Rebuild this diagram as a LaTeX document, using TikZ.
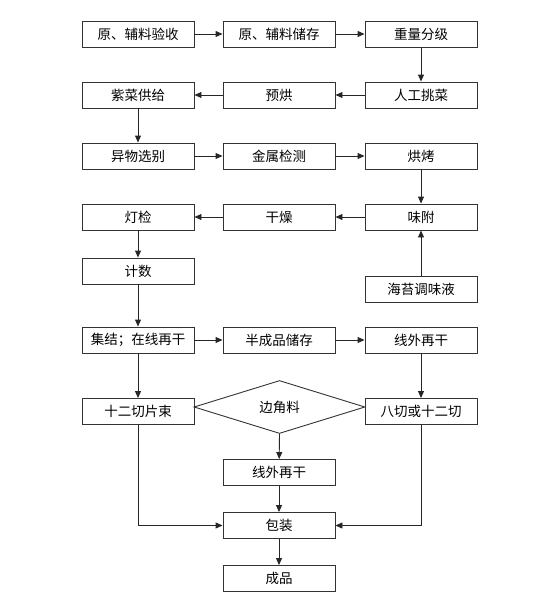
\documentclass[tikz,border=0pt]{standalone}
\usepackage{fontspec}
\setmainfont{Noto Sans CJK SC}
\usetikzlibrary{arrows.meta,shapes.geometric}
\tikzset{
  box/.style={draw=black!80, line width=0.9pt, minimum width=112pt, minimum height=26pt, inner sep=0pt, font=\fontsize{13.5}{15}\selectfont},
  dia/.style={draw=black!80, line width=0.9pt, diamond, aspect=3.2, minimum width=171pt, minimum height=53pt, inner sep=0pt, font=\fontsize{13.5}{15}\selectfont},
  arr/.style={draw=black!85, line width=0.9pt, -{Triangle[length=7pt,width=6pt]}},
  ln/.style={draw=black!85, line width=0.9pt}
}
\begin{document}
\begin{tikzpicture}[x=1pt,y=-1pt]
\useasboundingbox (0,0) rectangle (541,597);
% row 1
\node[box] (a1) at (138,34) {原、辅料验收};
\node[box] (a2) at (279,34) {原、辅料储存};
\node[box] (a3) at (421,34) {重量分级};
% row 2
\node[box] (b1) at (138,95) {紫菜供给};
\node[box] (b2) at (279,95) {预烘};
\node[box] (b3) at (421,95) {人工挑菜};
% row 3
\node[box] (c1) at (138,156) {异物选别};
\node[box] (c2) at (279,156) {金属检测};
\node[box] (c3) at (421,156) {烘烤};
% row 4
\node[box] (d1) at (138,217) {灯检};
\node[box] (d2) at (279,217) {干燥};
\node[box] (d3) at (421,217) {味附};
% count and seasoning
\node[box] (e1) at (138,271) {计数};
\node[box] (e3) at (421,289) {海苔调味液};
% collect row
\node[box] (f1) at (138,340) {集结；在线再干};
\node[box] (f2) at (279,340) {半成品储存};
\node[box] (f3) at (421,340) {线外再干};
% cutting row
\node[box] (g1) at (138,411.5) {十二切片束};
\node[dia] (g2) at (279.5,407) {边角料};
\node[box] (g3) at (421,411.5) {八切或十二切};
% bottom
\node[box] (h2) at (279,472.5) {线外再干};
\node[box] (i2) at (279,525.5) {包装};
\node[box] (j2) at (279,578.5) {成品};
% connectors
\draw[arr] (a1) -- (a2);
\draw[arr] (a2) -- (a3);
\draw[arr] (a3) -- (b3);
\draw[arr] (b3) -- (b2);
\draw[arr] (b2) -- (b1);
\draw[arr] (b1) -- (c1);
\draw[arr] (c1) -- (c2);
\draw[arr] (c2) -- (c3);
\draw[arr] (c3) -- (d3);
\draw[arr] (d3) -- (d2);
\draw[arr] (d2) -- (d1);
\draw[arr] (e3) -- (d3);
\draw[arr] (d1) -- (e1);
\draw[arr] (e1) -- (f1);
\draw[arr] (f1) -- (f2);
\draw[arr] (f2) -- (f3);
\draw[arr] (f1) -- (g1);
\draw[arr] (f3) -- (g3);
\draw[arr] (g2.south) -- (h2);
\draw[arr] (h2) -- (i2);
\draw[arr] (i2) -- (j2);
\draw[arr] (g1.south) |- (i2.west);
\draw[arr] (g3.south) |- (i2.east);
\end{tikzpicture}
\end{document}
